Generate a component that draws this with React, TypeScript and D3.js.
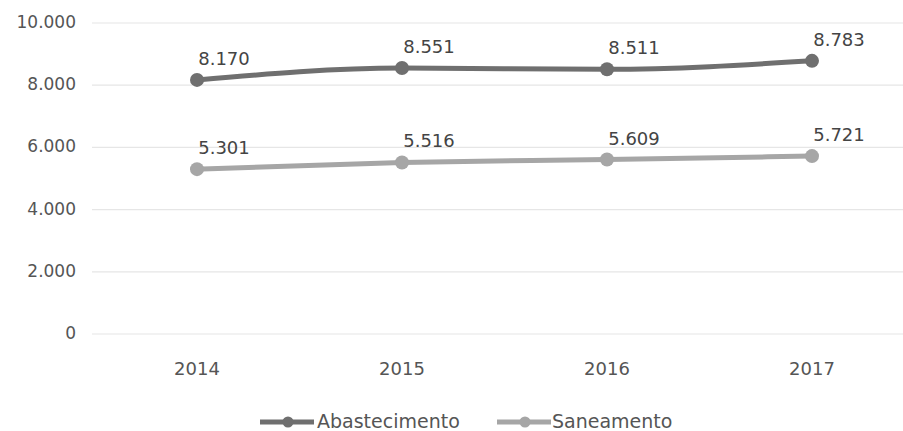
import React from "react";
import * as d3 from "d3";

const years = ["2014", "2015", "2016", "2017"];
const abastecimento = [8170, 8551, 8511, 8783];
const saneamento = [5301, 5516, 5609, 5721];
const yTicks = [0, 2000, 4000, 6000, 8000, 10000];

const seriesList = [
  { name: "Abastecimento", values: abastecimento, color: "#6f6f6f" },
  { name: "Saneamento", values: saneamento, color: "#a6a6a6" },
];

const fmt = (v: number) => {
  const s = d3.format(",")(v);
  return s.replace(/,/g, ".");
};

export default function App() {
  const W = 903;
  const H = 431;
  const x = d3.scalePoint<string>().domain(years).range([94.5, 914.5]).padding(0.5);
  const y = d3.scaleLinear().domain([0, 10000]).range([334, 23]);
  const line = d3
    .line<number>()
    .x((_, i) => x(years[i]) as number)
    .y((d) => y(d))
    .curve(d3.curveMonotoneX);
  const font = "'DejaVu Sans', sans-serif";
  const legendItems = [
    { lx: 260, tx: 317 },
    { lx: 497, tx: 552 },
  ];
  return (
    <svg
      width={W}
      height={H}
      style={{ position: "absolute", left: 0, top: 0, background: "#fff" }}
      fontFamily={font}
    >
      {yTicks.map((t) => (
        <g key={t}>
          <line x1={92} x2={903} y1={y(t)} y2={y(t)} stroke="#e6e6e6" strokeWidth={1.2} />
          <text
            x={76}
            y={y(t)}
            textAnchor="end"
            dominantBaseline="middle"
            fontSize={17}
            fill="#555"
          >
            {fmt(t)}
          </text>
        </g>
      ))}
      {years.map((yr) => (
        <text key={yr} x={x(yr) as number} y={375} textAnchor="middle" fontSize={18} fill="#555">
          {yr}
        </text>
      ))}
      {seriesList.map((s) => (
        <g key={s.name}>
          <path d={line(s.values) || ""} fill="none" stroke={s.color} strokeWidth={5} strokeLinecap="round" />
          {s.values.map((v, i) => (
            <g key={i}>
              <circle cx={x(years[i]) as number} cy={y(v)} r={7} fill={s.color} />
              <text
                x={(x(years[i]) as number) + 27}
                y={y(v) - 15}
                textAnchor="middle"
                fontSize={18}
                fill="#444"
              >
                {fmt(v)}
              </text>
            </g>
          ))}
        </g>
      ))}
      {seriesList.map((s, i) => (
        <g key={s.name}>
          <line
            x1={legendItems[i].lx}
            x2={legendItems[i].lx + 54}
            y1={422}
            y2={422}
            stroke={s.color}
            strokeWidth={5}
          />
          <circle cx={legendItems[i].lx + 28} cy={422} r={5.5} fill={s.color} />
          <text x={legendItems[i].tx} y={422} dominantBaseline="middle" fontSize={19} fill="#555">
            {s.name}
          </text>
        </g>
      ))}
    </svg>
  );
}
